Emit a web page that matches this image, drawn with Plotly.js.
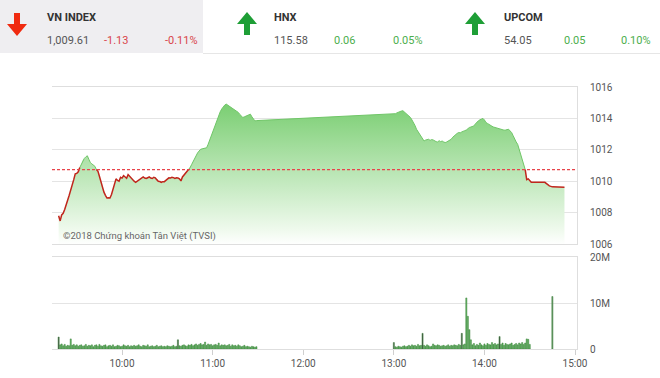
<!DOCTYPE html>
<html><head><meta charset="utf-8">
<script src="https://cdn.plot.ly/plotly-3.0.1.min.js"></script>
<style>html,body{margin:0;padding:0;background:#fff}#chart{width:660px;height:378px}</style>
</head><body><div id="chart"></div>
<script>
// ---------------- DATA ----------------
const DAY = '2018-01-01 ';
const refValue = 1010.74;            // previous close (reference)
const morningStart = '09:18';        // per-minute points from here
const morningPrices = [
 1007.80,1007.47,1007.85,1007.95,1008.20,1008.45,1008.80,1009.10,1009.40,1009.67,
 1010.10,1010.47,1010.50,1010.60,1010.87,1011.10,1011.34,1011.45,1011.55,1011.62,
 1011.40,1011.19,1011.10,1011.00,1010.95,1010.74,1010.64,1010.31,1009.95,1009.67,
 1009.30,1009.10,1008.93,1008.95,1008.93,1009.15,1009.46,1009.85,1010.15,1010.05,
 1010.00,1010.25,1010.20,1010.36,1010.30,1010.19,1010.42,1010.30,1010.21,1010.10,
 1010.00,1009.93,1010.00,1010.06,1010.15,1010.22,1010.27,1010.20,1010.17,1010.22,
 1010.27,1010.20,1010.17,1010.25,1010.21,1010.10,1010.00,1009.98,1009.93,1009.97,
 1009.97,1010.05,1010.15,1010.21,1010.20,1010.25,1010.23,1010.18,1010.22,1010.21,
 1010.15,1010.02,1010.27,1010.40,1010.53,1010.64,1010.75,1010.85,1011.05,1011.25,
 1011.45,1011.65,1011.80,1011.92,1012.03,1012.06,1012.08,1012.10,1012.13,1012.35,
 1012.62,1012.88,1013.12,1013.38,1013.62,1013.95,1014.20,1014.42,1014.60,1014.75,
 1014.85,1014.91,1014.85,1014.78,1014.70,1014.65,1014.59,1014.50,1014.45,1014.38,
 1014.25,1014.15,1014.06,1014.10,1014.14,1014.16,1014.22,1014.27,1014.10,1013.95,
 1013.84,1013.86
];
const afternoonStart = '13:00';
const afternoonPrices = [
 1014.27,1014.30,1014.35,1014.40,1014.42,1014.47,1014.49,1014.40,1014.33,1014.25,
 1014.15,1014.06,1013.90,1013.74,1013.55,1013.31,1013.15,1012.99,1012.85,1012.70,
 1012.56,1012.62,1012.65,1012.67,1012.60,1012.65,1012.63,1012.55,1012.52,1012.50,
 1012.58,1012.52,1012.56,1012.50,1012.46,1012.50,1012.56,1012.60,1012.67,1012.80,
 1012.90,1012.98,1013.05,1013.10,1013.08,1013.14,1013.20,1013.22,1013.26,1013.35,
 1013.42,1013.45,1013.50,1013.52,1013.65,1013.78,1013.85,1013.91,1013.95,1014.00,
 1013.90,1013.74,1013.68,1013.60,1013.56,1013.50,1013.45,1013.42,1013.38,1013.35,
 1013.31,1013.30,1013.28,1013.25,1013.26,1013.30,1013.31,1013.20,1013.10,1012.90,
 1012.67,1012.50,1012.35,1012.05,1011.70,1011.45,1011.17,1010.74,1010.10,1010.15,
 1010.00,1009.93
];
const closingTimes = ['14:40','14:43','14:45','14:53'];
const closingPrices = [1009.93,1009.70,1009.64,1009.61];

// volume in millions of shares, per minute
const morningVolumes = [
 2.6,0.9,1.1,0.7,1.0,0.6,0.8,0.7,2.2,0.8,1.0,0.7,0.9,0.6,0.8,0.9,0.6,0.7,1.0,0.6,
 0.8,0.7,0.9,0.5,0.8,0.9,0.6,1.0,0.7,0.6,0.8,0.9,0.5,0.7,0.8,0.6,0.9,0.5,0.6,0.8,
 0.7,0.5,0.6,0.9,0.7,0.6,0.8,0.5,0.7,0.6,0.8,0.6,0.7,0.9,0.6,0.5,0.8,0.7,0.6,0.9,
 0.5,0.6,0.7,0.5,0.6,0.8,0.5,0.6,0.7,0.5,0.6,0.5,0.7,0.6,0.5,0.6,0.8,0.5,0.6,2.0,
 0.7,0.6,0.8,0.9,0.7,0.6,0.9,0.8,1.0,0.7,0.9,1.1,0.8,1.0,1.2,0.9,1.0,1.5,0.8,1.1,
 0.9,1.0,0.7,0.9,1.0,0.8,1.3,0.7,0.9,0.8,0.9,0.7,0.8,1.0,0.6,0.9,0.7,0.8,0.6,0.9,
 0.7,0.5,0.6,0.8,0.5,0.6,0.5,0.4,0.6,0.5,0.4,0.5
];
const afternoonVolumes = [
 1.4,0.5,0.4,0.6,0.5,0.4,0.6,0.7,0.5,0.6,0.8,0.6,0.9,0.7,0.8,0.6,1.0,0.7,0.8,3.4,
 0.8,0.6,0.9,0.7,0.5,0.6,1.1,0.8,0.7,0.9,0.8,0.6,0.7,0.8,0.6,0.7,0.9,0.6,0.8,0.7,
 0.9,0.8,0.7,1.0,0.8,3.4,0.9,1.1,11.1,7.1,4.2,2.0,0.9,1.2,0.7,1.0,0.8,1.3,0.9,0.7,
 1.1,0.8,1.2,1.0,0.9,1.4,1.0,1.2,0.9,1.1,2.7,1.0,1.3,0.8,1.2,1.0,0.9,1.1,1.3,0.8,
 1.0,1.2,0.9,1.3,1.1,1.4,1.0,1.3,2.2,2.1,1.0
];
const atcTime = '14:45';
const atcVolume = 11.4;
const sellBarTimes = ['09:18','10:37','13:00','13:19','13:45','14:10'];

const timeTicks = ['10:00','11:00','12:00','13:00','14:00','15:00'];
const priceTicks = [1006,1008,1010,1012,1014,1016];
const volTicks = [0,10,20];
const volTickText = ['0','10M','20M'];

const indices = [
 {name:'VN INDEX', value:'1,009.61', change:'-1.13', pct:'-0.11%', up:false},
 {name:'HNX', value:'115.58', change:'0.06', pct:'0.05%', up:true},
 {name:'UPCOM', value:'54.05', change:'0.05', pct:'0.10%', up:true}
];
const copyright = '©2018 Chứng khoán Tân Việt (TVSI)';

// ---------------- BUILD ----------------
function addMin(hm, k){
  const [h,m] = hm.split(':').map(Number);
  const t = h*60+m+k;
  return String(Math.floor(t/60)).padStart(2,'0')+':'+String(t%60).padStart(2,'0');
}
const mTimes = morningPrices.map((_,i)=>addMin(morningStart,i));
const aTimes = afternoonPrices.map((_,i)=>addMin(afternoonStart,i));
const pTimes = mTimes.concat(aTimes, closingTimes).map(s=>DAY+s);
const pVals = morningPrices.concat(afternoonPrices, closingPrices);
const isBelow = pVals.map(v=> v<refValue);
const pAbove = pVals.map((v,i)=> !isBelow[i] ? v : null);
const pBelow = pVals.map((v,i)=> (isBelow[i] || isBelow[i-1] || isBelow[i+1]) ? v : null);

const vHM = morningVolumes.map((_,i)=>addMin(morningStart,i))
  .concat(afternoonVolumes.map((_,i)=>addMin(afternoonStart,i)), [atcTime]);
const vVals = morningVolumes.concat(afternoonVolumes,[atcVolume]);
const vColors = vHM.map(hm=> hm===atcTime ? 'rgb(105,150,105)' :
   (sellBarTimes.includes(hm) ? 'rgb(70,82,70)' : 'rgb(92,180,92)'));

const GREEN_TOP = 'rgb(122,206,114)';
const traces = [
 {x:pTimes, y:pVals, type:'scatter', mode:'lines', xaxis:'x', yaxis:'y',
  line:{width:0, color:GREEN_TOP}, fill:'tozeroy',
  fillgradient:{type:'vertical', start:1006, stop:1015,
    colorscale:[[0,'rgb(255,255,255)'],[0.1,'rgb(240,250,238)'],[1,GREEN_TOP]]},
  hoverinfo:'skip'},
 {x:pTimes, y:pAbove, type:'scatter', mode:'lines', xaxis:'x', yaxis:'y',
  line:{width:1, color:'rgb(112,198,104)'}, connectgaps:false, hoverinfo:'skip'},
 {x:pTimes, y:pBelow, type:'scatter', mode:'lines', xaxis:'x', yaxis:'y',
  line:{width:1.5, color:'#c0261c'}, connectgaps:false, hoverinfo:'skip'},
 {x:vHM.map(s=>DAY+s), y:vVals, type:'bar', xaxis:'x2', yaxis:'y2',
  marker:{color:vColors, line:{width:0.5, color:'rgb(60,130,60)'}}, width:45000, hoverinfo:'skip'}
];

// pixel -> paper helpers (plot area: x 52..577, y 87..349)
const L=52, R=577, T=87, B=349;
const px = x => (x-L)/(R-L);
const py = y => (B-y)/(B-T);

const xRange = [DAY+'09:13:36', DAY+'15:01:18'];
const tickFont = {family:'Roboto, sans-serif', size:10, color:'#555'};

const shapes = [
 {type:'rect', xref:'paper', yref:'paper', x0:px(0), x1:px(203), y0:py(0), y1:py(53),
  fillcolor:'#efeef1', line:{width:0}, layer:'below'},
 {type:'line', xref:'paper', yref:'paper', x0:px(203), x1:px(660), y0:py(53.5), y1:py(53.5),
  line:{color:'#e6e6e6', width:1}},
 {type:'line', xref:'paper', yref:'y', x0:0, x1:1, y0:refValue, y1:refValue,
  line:{color:'#e8434a', width:1.2, dash:'3px,2px'}, layer:'above'}
];
const arrowX = [17, 247, 475];
indices.forEach((d,i)=>{
  const c = arrowX[i];
  let pts;
  if (d.up) {
    pts = [[c-3,35],[c+3,35],[c+3,24],[c+10,24],[c,12],[c-10,24],[c-3,24]];
  } else {
    pts = [[c-3,13],[c+3,13],[c+3,24],[c+10,24],[c,36],[c-10,24],[c-3,24]];
  }
  const path = 'M'+pts.map(p=>px(p[0])+','+py(p[1])).join(' L')+' Z';
  shapes.push({type:'path', xref:'paper', yref:'paper', path:path,
    fillcolor: d.up ? '#1e9e36' : '#f02a10', line:{width:0}});
});

const annFont = (sz,col,bold)=>({family:'Roboto, sans-serif', size:sz, color:col, weight: bold?'bold':'normal'});
const annotations = [];
const textX = [[45,102,163],[272,332,391],[502,562,619]];
indices.forEach((d,i)=>{
  const col = d.up ? '#4cae4c' : '#d9454a';
  const [x0,x1,x2] = textX[i];
  const base = {xref:'paper', yref:'paper', showarrow:false, xanchor:'left', yanchor:'middle'};
  annotations.push(Object.assign({}, base, {x:px(x0), y:py(17), text:'<b>'+d.name+'</b>', font:annFont(11,'#333',true)}));
  annotations.push(Object.assign({}, base, {x:px(x0), y:py(40), text:d.value, font:annFont(11,'#555')}));
  annotations.push(Object.assign({}, base, {x:px(x1), y:py(40), text:d.change, font:annFont(11,col)}));
  annotations.push(Object.assign({}, base, {x:px(x2), y:py(40), text:d.pct, font:annFont(11,col)}));
});
annotations.push({xref:'paper', yref:'paper', showarrow:false, xanchor:'left', yanchor:'middle',
  x:px(61), y:py(236), text:copyright, font:annFont(9.5,'#666')});

const layout = {
  width:660, height:378,
  margin:{l:L, r:660-R, t:T, b:378-B, pad:0},
  paper_bgcolor:'#fff', plot_bgcolor:'#fff',
  showlegend:false, bargap:0,
  font:{family:'Roboto, sans-serif', color:'#555'},
  xaxis:{domain:[0,1], anchor:'y', type:'date', range:xRange, showticklabels:false, ticks:'',
    showgrid:false, zeroline:false, showline:true, mirror:true, linecolor:'#dedede', linewidth:1, fixedrange:true},
  yaxis:{domain:[py(244),1], anchor:'x', side:'right', range:[1006,1016], tickvals:priceTicks,
    showgrid:true, gridcolor:'#e4e4e4', gridwidth:1, zeroline:false, showline:true, linecolor:'#dedede',
    ticks:'', ticklabelstandoff:10, tickfont:tickFont, fixedrange:true},
  xaxis2:{domain:[0,1], anchor:'y2', type:'date', range:xRange,
    tickvals:timeTicks.map(s=>DAY+s), ticktext:timeTicks, ticks:'outside', ticklen:5, tickcolor:'#cfcfcf',
    tickfont:tickFont, showgrid:false, zeroline:false, showline:true, mirror:true, linecolor:'#dedede', fixedrange:true},
  yaxis2:{domain:[0,py(257)], anchor:'x2', side:'right', range:[0,20], tickvals:volTicks, ticktext:volTickText,
    showgrid:true, gridcolor:'#e4e4e4', zeroline:false, showline:true, linecolor:'#dedede',
    ticks:'', ticklabelstandoff:10, tickfont:tickFont, fixedrange:true},
  shapes:shapes, annotations:annotations
};
Plotly.newPlot('chart', traces, layout, {staticPlot:true, displayModeBar:false});
</script></body></html>
